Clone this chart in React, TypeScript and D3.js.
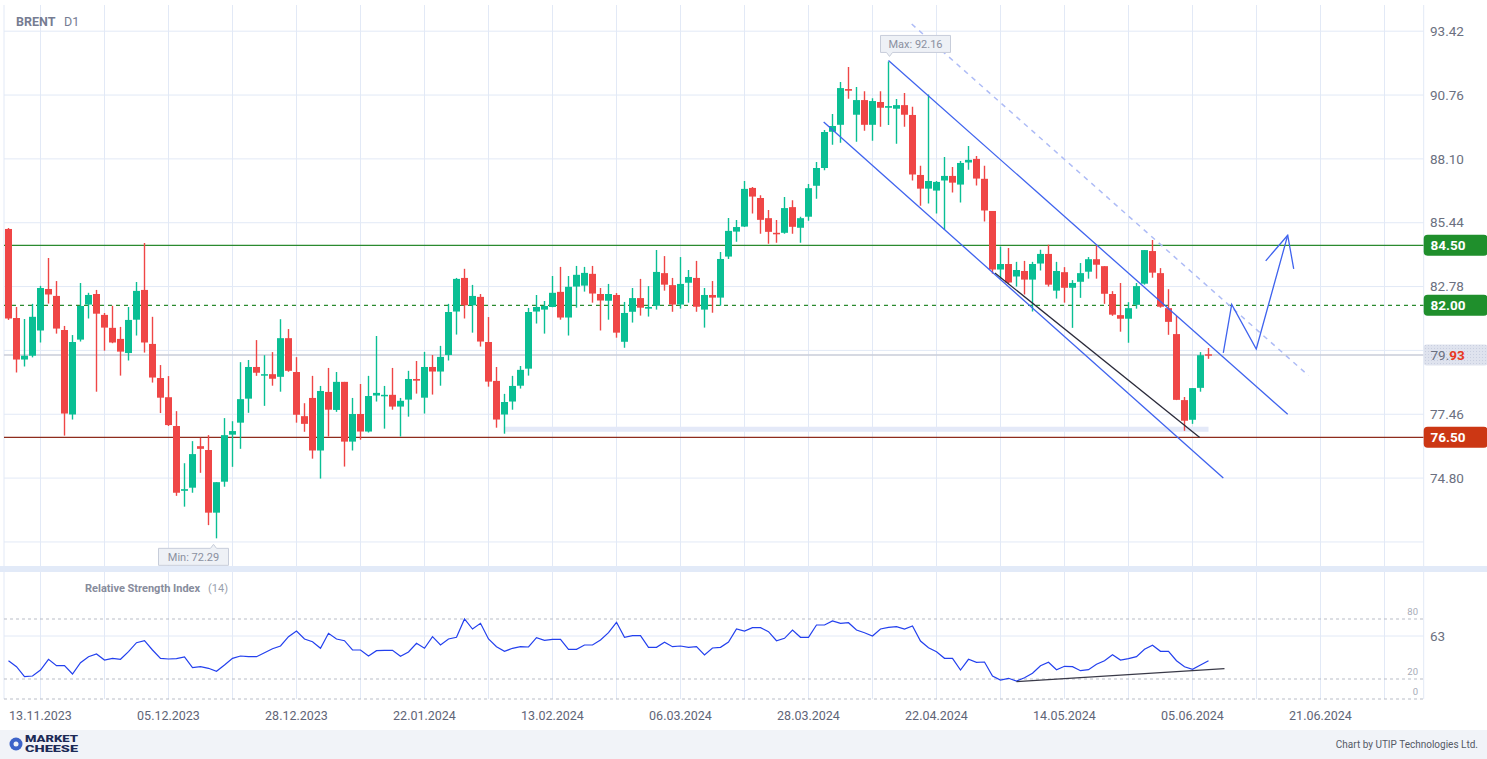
import React from 'react';
import * as d3 from 'd3';

// BRENT D1, bars 07.11.2023 .. 07.06.2024
const opens = [
  85.18, 81.47, 79.74, 79.90, 80.95, 82.68, 82.39, 80.97, 77.45, 80.57,
  82.03, 82.47, 81.60, 81.06, 80.60, 80.01, 81.40, 82.64, 80.39, 78.97,
  78.17, 76.97, 74.27, 74.40, 76.13, 75.97, 73.36, 74.65, 76.61, 77.11,
  78.11, 79.43, 79.11, 79.13, 79.02, 80.63, 79.22, 77.38, 78.14, 75.95,
  78.39, 77.64, 78.81, 76.32, 77.47, 76.74, 78.24, 78.24, 78.27, 77.78,
  78.07, 78.93, 78.15, 79.43, 79.24, 79.93, 81.74, 83.14, 82.00, 82.35,
  80.47, 78.85, 77.45, 77.99, 78.65, 79.36, 81.74, 81.82, 81.93, 82.56,
  81.49, 82.78, 82.82, 83.31, 82.47, 82.19, 82.43, 80.48, 81.73, 82.30,
  81.86, 81.98, 83.34, 82.84, 82.03, 82.94, 83.14, 81.82, 82.43, 82.32,
  84.03, 85.07, 85.28, 86.89, 86.47, 85.63, 85.02, 85.02, 86.09, 85.23,
  85.69, 86.98, 87.72, 89.23, 89.52, 91.01, 89.94, 90.55, 89.52, 90.47,
  90.23, 90.19, 90.34, 89.93, 87.43, 86.86, 86.78, 87.20, 87.39, 87.03,
  87.95, 88.10, 87.27, 85.93, 83.49, 83.72, 83.20, 83.43, 83.07, 83.74,
  84.14, 82.61, 83.38, 82.73, 82.98, 83.40, 83.92, 83.63, 82.47, 81.59,
  81.44, 82.02, 82.90, 84.26, 83.34, 81.88, 80.80, 78.05, 77.23, 78.56,
  79.96,
];
const highs = [
  85.22, 81.93, 81.43, 82.06, 82.81, 83.97, 83.01, 81.14, 80.76, 82.93,
  82.52, 82.64, 81.68, 81.98, 81.10, 81.93, 82.97, 84.60, 81.52, 79.51,
  79.05, 77.59, 75.42, 76.34, 76.48, 76.59, 74.63, 77.30, 77.17, 79.63,
  79.72, 80.55, 79.92, 80.05, 81.42, 81.01, 79.84, 77.92, 79.06, 78.64,
  79.39, 79.22, 78.81, 78.14, 78.72, 79.06, 80.72, 78.64, 79.39, 78.14,
  79.27, 79.68, 80.06, 79.93, 80.31, 82.06, 83.14, 83.52, 82.85, 82.47,
  81.51, 79.43, 78.31, 79.06, 79.47, 81.89, 82.43, 82.18, 83.22, 83.60,
  83.22, 83.64, 83.60, 83.64, 82.72, 82.89, 82.51, 82.14, 82.72, 83.10,
  82.80, 84.30, 84.05, 83.14, 84.01, 83.47, 83.85, 82.72, 83.01, 84.22,
  85.64, 85.55, 87.18, 86.93, 86.59, 85.97, 85.55, 86.51, 86.38, 85.69,
  87.05, 87.97, 89.30, 89.97, 91.30, 91.93, 91.09, 90.92, 90.63, 90.92,
  92.16, 90.59, 90.84, 90.27, 87.81, 90.78, 87.18, 88.18, 87.76, 88.01,
  88.64, 88.22, 87.81, 85.93, 84.45, 84.39, 83.81, 83.85, 83.81, 84.31,
  84.52, 83.81, 83.59, 83.05, 83.76, 84.01, 84.51, 83.63, 82.59, 82.93,
  82.13, 82.93, 84.30, 84.72, 83.55, 82.67, 81.56, 78.18, 78.55, 80.05,
  80.22,
];
const lows = [
  81.39, 79.20, 79.45, 79.83, 80.45, 82.07, 80.82, 76.57, 77.24, 80.49,
  81.45, 78.40, 80.11, 80.42, 79.07, 79.70, 80.74, 80.03, 78.78, 77.51,
  76.97, 74.06, 73.61, 74.19, 75.02, 72.84, 72.29, 74.44, 75.27, 76.02,
  77.52, 79.06, 77.81, 78.65, 78.40, 79.23, 77.11, 76.73, 75.61, 74.78,
  76.53, 77.56, 75.28, 75.95, 76.40, 76.70, 77.99, 76.86, 77.65, 76.53,
  77.36, 78.32, 77.49, 78.28, 78.65, 79.70, 80.78, 81.45, 80.86, 80.28,
  78.61, 76.90, 76.65, 77.65, 78.53, 79.07, 81.24, 80.82, 81.92, 81.40,
  80.74, 81.90, 82.57, 82.11, 80.95, 81.40, 80.65, 80.23, 81.28, 81.57,
  81.53, 81.82, 82.61, 81.73, 81.86, 82.11, 81.73, 81.07, 81.69, 81.98,
  83.93, 84.65, 85.26, 85.82, 84.98, 84.56, 84.61, 84.98, 84.98, 84.61,
  85.52, 86.44, 87.63, 88.69, 88.77, 90.61, 88.81, 89.27, 88.86, 89.44,
  89.51, 88.73, 89.44, 87.20, 86.15, 86.24, 85.82, 85.15, 86.70, 86.28,
  87.65, 86.99, 85.49, 83.32, 83.07, 82.90, 82.78, 82.45, 81.74, 83.45,
  82.78, 82.28, 82.11, 81.06, 82.31, 83.11, 83.11, 82.06, 81.56, 80.90,
  80.44, 81.86, 82.86, 83.15, 81.90, 80.77, 78.05, 76.77, 77.06, 78.40,
  79.77,
];
const closes = [
  81.45, 79.74, 79.90, 81.52, 82.72, 82.45, 81.03, 77.49, 80.47, 81.97,
  82.43, 81.65, 81.07, 80.45, 80.07, 81.39, 82.60, 80.45, 78.99, 78.15,
  77.01, 74.19, 74.34, 75.80, 76.02, 73.36, 74.63, 76.59, 76.76, 78.09,
  79.43, 79.19, 79.13, 78.94, 80.63, 79.27, 77.44, 77.06, 75.95, 78.43,
  77.65, 78.81, 76.32, 77.47, 76.74, 78.22, 78.35, 78.27, 77.78, 78.02,
  78.93, 78.86, 79.43, 79.24, 79.85, 81.72, 83.10, 82.00, 82.39, 80.49,
  78.82, 77.24, 77.97, 78.64, 79.31, 81.72, 81.93, 81.97, 82.52, 81.49,
  82.77, 83.27, 83.35, 82.49, 82.20, 82.47, 80.86, 81.68, 82.30, 81.90,
  81.93, 83.39, 82.86, 82.03, 82.89, 83.18, 81.94, 82.43, 82.32, 83.93,
  85.10, 85.26, 86.85, 86.53, 85.56, 85.06, 84.98, 86.05, 85.27, 85.63,
  86.88, 87.72, 89.22, 89.47, 91.05, 90.94, 90.55, 89.52, 90.51, 90.23,
  90.30, 90.34, 89.94, 87.45, 86.86, 87.18, 87.14, 87.39, 87.11, 87.93,
  88.06, 87.28, 85.95, 83.49, 83.72, 82.95, 83.47, 83.07, 83.72, 84.14,
  82.86, 83.43, 82.73, 82.93, 83.34, 83.92, 83.69, 82.48, 81.61, 81.44,
  81.88, 82.80, 84.30, 83.36, 81.94, 81.31, 78.06, 77.19, 78.55, 79.92,
  79.93,
];
// RSI(14), one value per bar
const rsi = [
  38.3, 32.3, 22.3, 23.0, 29.0, 39.7, 33.3, 33.3, 25.0, 36.3,
  42.3, 45.0, 39.0, 40.7, 39.7, 47.3, 56.3, 58.3, 49.0, 40.7,
  40.0, 40.3, 42.0, 31.3, 32.3, 30.7, 27.7, 34.0, 40.7, 43.0,
  42.3, 42.3, 46.3, 50.3, 53.0, 62.3, 68.0, 60.0, 57.3, 50.7,
  65.7, 60.0, 58.3, 49.0, 49.0, 43.0, 48.3, 48.7, 48.7, 42.7,
  47.0, 55.7, 50.7, 62.3, 54.0, 60.0, 61.7, 80.0, 70.0, 75.7,
  60.0, 52.3, 47.7, 50.7, 52.3, 52.0, 61.3, 58.7, 59.7, 59.7,
  49.7, 49.7, 54.0, 54.0, 59.0, 66.3, 76.7, 61.7, 63.3, 63.3,
  51.7, 51.7, 56.7, 52.3, 53.0, 51.7, 52.3, 44.0, 51.0, 51.7,
  57.0, 70.0, 68.0, 71.3, 71.3, 67.3, 58.3, 60.7, 69.0, 61.7,
  61.7, 74.0, 74.0, 78.0, 75.7, 76.3, 69.0, 66.3, 63.0, 70.0,
  71.7, 72.3, 70.0, 73.0, 58.0, 51.3, 47.3, 40.7, 40.7, 29.0,
  39.7, 36.7, 37.0, 23.0, 19.0, 20.7, 18.0, 21.3, 25.7, 33.3,
  36.7, 29.3, 32.7, 32.3, 28.3, 29.3, 34.7, 38.3, 44.3, 39.0,
  40.3, 42.3, 49.7, 53.7, 47.7, 47.7, 38.3, 32.3, 29.7, 34.0,
  38.3,
];

const dateTickBars = [4, 20, 36, 52, 68, 84, 100, 116, 132, 148, 164];
const dateTickLabels = [
  '13.11.2023', '05.12.2023', '28.12.2023', '22.01.2024', '13.02.2024', '06.03.2024',
  '28.03.2024', '22.04.2024', '14.05.2024', '05.06.2024', '21.06.2024',
];
const priceTicks = [72.14, 74.80, 77.46, 80.12, 82.78, 85.44, 88.10, 90.76, 93.42];
const hiddenPriceLabels = [72.14, 80.12];

const resistance = 84.5;
const pivot = 82.0;
const support = 76.5;
const lastPrice = 79.93;
const maxPrice = 92.16;
const minPrice = 72.29;

// drawings, as [bar, price]
const channelUpper = [[110, 92.2], [159.9, 77.46]];
const channelLower = [[101.9, 89.64], [151.85, 74.8]];
const channelDotted = [[112.9, 93.72], [162.5, 79.07]];
const innerLine = [[123.3, 83.35], [148.9, 76.49]];
const forecastPath = [[151.85, 80.02], [152.9, 82.04], [155.97, 80.18], [159.9, 84.92]];
const arrowHead = [[157.15, 83.85], [159.9, 84.92], [160.65, 83.52]];
const zoneBars = [61.9, 150];
const zonePrices = [76.73, 76.94];
const rsiTrend = [[126, 17.3], [152, 30.3]];
const rsiLevels = [80, 20, 0];

const W = 1487;
const H = 759;
const PLOT_L = 4;
const PLOT_R = 1423.7;
const FONT = 'Roboto, "Noto Sans", Arial, sans-serif';
const GREEN = '#0abf94';
const RED = '#ef4646';
const BLUE = '#3f63ee';
const GRID = '#e2e9f6';

export default function App() {
  const x = d3.scaleLinear().domain([0, 150]).range([8.5, 1208.5]);
  const y = d3.scaleLinear().domain([74.8, 93.42]).range([478.1, 31.2]);
  const yR = d3.scaleLinear().domain([0, 100]).range([699, 599]);

  const line = d3.line<number[]>().x(d => x(d[0])).y(d => y(d[1]));
  const rsiLine = d3.line<number>().x((_, i) => x(i)).y(d => yR(d));
  const rsiTrendLine = d3.line<number[]>().x(d => x(d[0])).y(d => yR(d[1]));

  const gridBars = d3.range(4, 177, 8);
  const bodyW = 7;

  const box = (v: number, fill: string, key: string) => (
    <g key={key}>
      <rect x={PLOT_R} y={y(v) - 10.5} width={64} height={21} rx={4} fill={fill} />
      <text x={1430.5} y={y(v)} dy="0.35em" fill="#fff" fontWeight="bold" fontSize={13.5}>
        {v.toFixed(2)}
      </text>
    </g>
  );

  return (
    <div>
      <style>{`body{margin:0;background:#fff}`}</style>
      <svg width={W} height={H} style={{ display: 'block', fontFamily: FONT }}>
        <defs>
          <clipPath id="plot">
            <rect x={PLOT_L} y={5} width={PLOT_R - PLOT_L} height={561} />
          </clipPath>
          <clipPath id="rsiclip">
            <rect x={PLOT_L} y={572} width={PLOT_R - PLOT_L} height={130} />
          </clipPath>
          <pattern id="dots" width="3" height="3" patternUnits="userSpaceOnUse">
            <rect width="3" height="3" fill="#dfe3ee" />
            <rect width="1" height="1" fill="#c9cfe0" />
          </pattern>
        </defs>
        <rect width={W} height={H} fill="#fff" />

        {/* grid */}
        {gridBars.map(b => (
          <line key={'vg' + b} x1={x(b)} x2={x(b)} y1={5} y2={699} stroke={GRID} />
        ))}
        {priceTicks.map(t => (
          <line key={'hg' + t} x1={PLOT_L} x2={PLOT_R} y1={y(t)} y2={y(t)} stroke={GRID} />
        ))}
        <line x1={PLOT_L} x2={PLOT_L} y1={5} y2={699} stroke={GRID} />
        <line x1={PLOT_R} x2={PLOT_R} y1={5} y2={699} stroke={GRID} />

        {/* header */}
        <text x={16} y={26} fontSize={12.5} fontWeight="bold" fill="#767c92">BRENT</text>
        <text x={64} y={26} fontSize={12.5} fill="#767c92">D1</text>

        <g clipPath="url(#plot)">
          {/* zone */}
          <rect
            x={x(zoneBars[0])}
            width={x(zoneBars[1]) - x(zoneBars[0])}
            y={y(zonePrices[1])}
            height={y(zonePrices[0]) - y(zonePrices[1])}
            fill="#e4e9f8"
          />
          {/* levels */}
          <line x1={PLOT_L} x2={PLOT_R} y1={y(lastPrice)} y2={y(lastPrice)} stroke="#c9cdd8" strokeWidth={1.5} />
          <line x1={PLOT_L} x2={PLOT_R} y1={y(resistance)} y2={y(resistance)} stroke="#2b8a2f" strokeWidth={1.2} />
          <line x1={PLOT_L} x2={PLOT_R} y1={y(pivot)} y2={y(pivot)} stroke="#2b8a2f" strokeWidth={1.2} strokeDasharray="4,4" />
          <line x1={PLOT_L} x2={PLOT_R} y1={y(support)} y2={y(support)} stroke="#8e2c1c" strokeWidth={1.2} />

          {/* candles */}
          {closes.map((c, i) => {
            const o = opens[i];
            const up = c >= o;
            const col = up ? GREEN : RED;
            const top = y(Math.max(o, c));
            const bot = y(Math.min(o, c));
            return (
              <g key={'c' + i}>
                <line x1={x(i)} x2={x(i)} y1={y(highs[i])} y2={y(lows[i])} stroke={col} strokeWidth={1.4} />
                <rect x={x(i) - bodyW / 2} y={top} width={bodyW} height={Math.max(1.5, bot - top)} fill={col} />
              </g>
            );
          })}

          {/* drawings */}
          <path d={line(channelDotted as any) || ''} stroke="#aebcf6" strokeWidth={1.5} strokeDasharray="5,5" fill="none" />
          <path d={line(innerLine as any) || ''} stroke="#2a2a3a" strokeWidth={1.3} fill="none" />
          <path d={line(channelUpper as any) || ''} stroke={BLUE} strokeWidth={1.3} fill="none" />
          <path d={line(channelLower as any) || ''} stroke={BLUE} strokeWidth={1.3} fill="none" />
          <path d={line(forecastPath as any) || ''} stroke={BLUE} strokeWidth={1.3} fill="none" />
          <path d={line(arrowHead as any) || ''} stroke={BLUE} strokeWidth={1.3} fill="none" />
        </g>

        {/* max / min labels */}
        <g>
          <path
            d={`M${x(110) - 8},${y(maxPrice) - 26} h70 v17 h-58 l-3,4 l-3,-4 h-6 z`}
            fill="#eef1f6"
            stroke="#c7cdda"
          />
          <text x={x(110) + 27} y={y(maxPrice) - 17.5} dy="0.35em" textAnchor="middle" fontSize={11} fill="#8b90a0">
            Max: {maxPrice.toFixed(2)}
          </text>
          <path
            d={`M${x(26) - 58},${y(minPrice) + 10} h52 l3,-4 l3,4 h12 v17 h-70 z`}
            fill="#eef1f6"
            stroke="#c7cdda"
          />
          <text x={x(26) - 23} y={y(minPrice) + 18.5} dy="0.35em" textAnchor="middle" fontSize={11} fill="#8b90a0">
            Min: {minPrice.toFixed(2)}
          </text>
        </g>

        {/* price axis */}
        {priceTicks.filter(t => !hiddenPriceLabels.includes(t)).map(t => (
          <text key={'pt' + t} x={1430} y={y(t)} dy="0.35em" fontSize={13.5} fill="#6b7080">
            {t.toFixed(2)}
          </text>
        ))}
        {box(resistance, '#1f8f2c', 'r')}
        {box(pivot, '#1f8f2c', 'p')}
        {box(support, '#cc3714', 's')}
        <rect x={PLOT_R} y={y(lastPrice) - 10.5} width={64} height={21} rx={3} fill="url(#dots)" />
        <text x={1430.5} y={y(lastPrice)} dy="0.35em" fontSize={13.5}>
          <tspan fill="#6b7080">79.</tspan>
          <tspan fill="#e8381f" fontWeight="bold">93</tspan>
        </text>

        {/* panel separator */}
        <rect x={0} y={566} width={W} height={6} fill="#e2eaf8" />

        {/* RSI panel */}
        <text x={85} y={592} fontSize={11} fontWeight="bold" fill="#878c9c">Relative Strength Index</text>
        <text x={208} y={592} fontSize={11} fill="#9a9fae">(14)</text>
        <line x1={PLOT_L} x2={PLOT_R} y1={yR(63)} y2={yR(63)} stroke={GRID} />
        {rsiLevels.map(l => (
          <g key={'rl' + l}>
            <line x1={PLOT_L} x2={PLOT_R} y1={yR(l)} y2={yR(l)} stroke="#b9bdc7" strokeDasharray="3,3" />
            <text x={1418} y={yR(l) - 4} textAnchor="end" fontSize={9.5} fill="#a7abb7">{l}</text>
          </g>
        ))}
        <text x={1430} y={yR(63)} dy="0.35em" fontSize={13.5} fill="#6b7080">63</text>
        <g clipPath="url(#rsiclip)">
          <path d={rsiLine(rsi) || ''} stroke="#2340ee" strokeWidth={1.2} fill="none" />
          <path d={rsiTrendLine(rsiTrend as any) || ''} stroke="#3a3a48" strokeWidth={1.2} fill="none" />
        </g>

        {/* date axis */}
        {dateTickBars.map((b, k) => (
          <text key={'dt' + b} x={x(b)} y={720} textAnchor="middle" fontSize={12.5} fill="#5f6577">
            {dateTickLabels[k]}
          </text>
        ))}

        {/* footer */}
        <rect x={0} y={730} width={W} height={29} fill="#f1f3f8" />
        <circle cx={16} cy={744} r={6.5} fill="#3d63c9" />
        <circle cx={16} cy={744} r={2.5} fill="#f1f3f8" />
        <text x={25} y={742} fontSize={9} fontWeight="900" fill="#1d2a57" textLength={53} lengthAdjust="spacingAndGlyphs">MARKET</text>
        <text x={25} y={752} fontSize={9} fontWeight="900" fill="#1d2a57" textLength={53} lengthAdjust="spacingAndGlyphs">CHEESE</text>
        <text x={1478} y={748} textAnchor="end" fontSize={10} fill="#555a66">
          Chart by UTIP Technologies Ltd.
        </text>
      </svg>
    </div>
  );
}
